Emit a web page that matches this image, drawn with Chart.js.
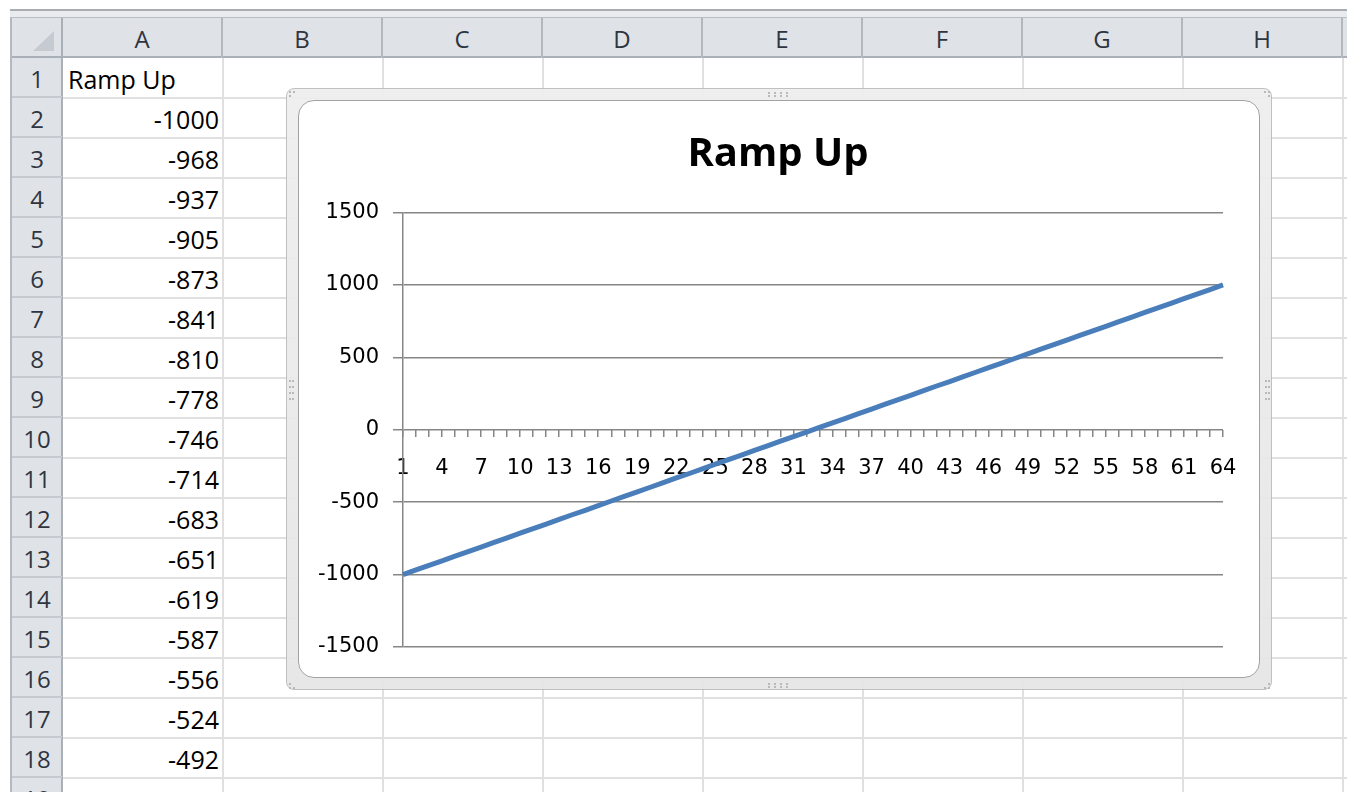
<!DOCTYPE html>
<html>
<head>
<meta charset="utf-8">
<script src="https://cdn.jsdelivr.net/npm/chart.js@4/dist/chart.umd.min.js"></script>
<style>
  html, body { margin: 0; padding: 0; background: #fff; }
  body { width: 1347px; height: 792px; overflow: hidden; position: relative; font-family: "Open Sans", sans-serif; }
  .abs { position: absolute; box-sizing: border-box; }
  .colhdr { position: absolute; top: 18px; height: 40px; width: 160px; border-right: 2px solid #b3b8bf; text-align: center; line-height: 42px; font-size: 24px; color: #2f3540; box-sizing: border-box; }
  .rowhdr { position: absolute; left: 12px; width: 50px; height: 40px; text-align: center; line-height: 42px; font-size: 24px; color: #2f3540; border-bottom: 2px solid #c6cad0; box-sizing: border-box; }
  .cell { position: absolute; height: 40px; line-height: 42px; font-size: 25px; color: #000; white-space: nowrap; }
  .hline { position: absolute; height: 2px; background: #e0e0e0; }
  .vline { position: absolute; width: 2px; background: #e0e0e0; }
  .dot { position: absolute; width: 2px; height: 2px; background: #b9b9b9; }
</style>
</head>
<body>
<div id="sheet"></div>
<div class="abs" style="left:286px;top:88px;width:986px;height:602px;border:1px solid #bcbcbc;border-radius:8px;background:linear-gradient(#eeeeee,#e6e6e6);opacity:0.93;"></div>
<div class="abs" style="left:298px;top:100px;width:962px;height:578px;border:1px solid #a2a2a2;border-radius:16px;background:#fff;"></div>
<div id="dots"></div>
<canvas id="c" width="962" height="578" style="position:absolute;left:298px;top:100px;"></canvas>
<script>
// ---- data ----
const seriesName = "Ramp Up";
const categories = [1,2,3,4,5,6,7,8,9,10,11,12,13,14,15,16,17,18,19,20,21,22,23,24,25,26,27,28,29,30,31,32,33,34,35,36,37,38,39,40,41,42,43,44,45,46,47,48,49,50,51,52,53,54,55,56,57,58,59,60,61,62,63,64];
const rampUp = [-1000,-968,-937,-905,-873,-841,-810,-778,-746,-714,-683,-651,-619,-587,-556,-524,-492,-460,-429,-397,-365,-333,-302,-270,-238,-206,-175,-143,-111,-79,-48,-16,16,48,79,111,143,175,206,238,270,302,333,365,397,429,460,492,524,556,587,619,651,683,714,746,778,810,841,873,905,937,968,1000];
const yTickValues = [-1500,-1000,-500,0,500,1000,1500];
const xLabelStep = 3;
const columnLetters = ["A","B","C","D","E","F","G","H"];
const rowNumbers = [1,2,3,4,5,6,7,8,9,10,11,12,13,14,15,16,17,18,19];

// ---- spreadsheet ----
const sheet = document.getElementById('sheet');
function add(html){ sheet.insertAdjacentHTML('beforeend', html); }
add('<div class="abs" style="left:10px;top:9px;width:1337px;height:2px;background:#a9adb3"></div>');
add('<div class="abs" style="left:10px;top:11px;width:1337px;height:6px;background:#e9ecef"></div>');
add('<div class="abs" style="left:10px;top:17px;width:1337px;height:1px;background:#b9bec4"></div>');
add('<div class="abs" style="left:10px;top:18px;width:1337px;height:40px;background:#dfe3e8;border-bottom:2px solid #aab0b8"></div>');
add('<div class="abs" style="left:10px;top:58px;width:53px;height:734px;background:#dfe3e8;border-right:2px solid #aab0b8;border-left:2px solid #b4b9c0"></div>');
add('<div class="abs" style="left:10px;top:18px;width:53px;height:40px;border-right:2px solid #aab0b8;border-left:2px solid #b4b9c0"></div>');
add('<div class="abs" style="left:33px;top:31px;width:0;height:0;border-left:21px solid transparent;border-bottom:20px solid #c6cbd1"></div>');
columnLetters.forEach((L,i)=>{
  add('<div class="colhdr" style="left:'+(63+160*i)+'px">'+L+'</div>');
});
rowNumbers.forEach((r,i)=>{
  add('<div class="rowhdr" style="top:'+(58+40*i)+'px">'+r+'</div>');
});
for (let r=1; r<=19; r++){
  add('<div class="hline" style="left:63px;width:1284px;top:'+(57+40*r)+'px"></div>');
}
for (let k=0; k<8; k++){
  add('<div class="vline" style="top:58px;height:734px;left:'+(222+160*k)+'px"></div>');
}
add('<div class="cell" style="left:68px;top:58px">'+seriesName+'</div>');
for (let i=0; i<17; i++){
  add('<div class="cell" style="left:63px;width:156px;text-align:right;top:'+(98+40*i)+'px">'+rampUp[i]+'</div>');
}

// ---- frame handle dots ----
const dots = document.getElementById('dots');
function dot(x,y){ dots.insertAdjacentHTML('beforeend','<div class="dot" style="left:'+x+'px;top:'+y+'px"></div>'); }
[768,774,780,786].forEach(x=>{ dot(x,92); dot(x,95); dot(x,683); dot(x,686); });
[380,386,392,398].forEach(y=>{ dot(289,y); dot(292,y); dot(1265,y); dot(1268,y); });
[[289,91],[293,91],[289,95],[1264,91],[1268,91],[1268,95],[289,683],[289,687],[293,687],[1268,683],[1264,687],[1268,687]].forEach(p=>dot(p[0],p[1]));

// ---- chart ----
const gridColor = '#868686';
new Chart(document.getElementById('c'), {
  type: 'line',
  data: {
    labels: categories,
    datasets: [{
      label: seriesName,
      data: rampUp,
      borderColor: '#4a7ebb',
      borderWidth: 5,
      pointRadius: 0,
      tension: 0,
      fill: false
    }]
  },
  options: {
    responsive: false,
    animation: false,
    layout: { padding: { left: 0, right: 2, top: 0, bottom: 31 } },
    plugins: {
      legend: { display: false },
      tooltip: { enabled: false },
      title: {
        display: true,
        text: seriesName,
        color: '#000',
        font: { family: 'Open Sans', size: 40, weight: 'bold' },
        padding: { top: 31, bottom: 33.5 }
      }
    },
    scales: {
      x: {
        type: 'category',
        position: { y: 0 },
        offset: false,
        grid: { drawOnChartArea: false, drawTicks: true, tickLength: 7, color: gridColor, lineWidth: 1.5 },
        border: { display: false },
        ticks: {
          autoSkip: false, maxRotation: 0, minRotation: 0, padding: 19,
          color: '#000',
          font: { family: 'DejaVu Sans', size: 21 },
          callback: (v, i) => (i % xLabelStep === 0 ? String(categories[i]) : '')
        }
      },
      y: {
        min: yTickValues[0],
        max: yTickValues[yTickValues.length - 1],
        afterFit: s => { s.width = 105; },
        afterBuildTicks: s => { s.ticks = yTickValues.map(v => ({ value: v })); },
        grid: { color: gridColor, tickLength: 10, lineWidth: 1.5 },
        border: { color: gridColor, width: 1.5 },
        ticks: {
          padding: 14,
          color: '#000',
          font: { family: 'DejaVu Sans', size: 21 },
          callback: v => String(v)
        }
      },
      spacer: {
        type: 'linear',
        position: 'right',
        display: true,
        afterFit: s => { s.width = 35; },
        grid: { display: false, drawTicks: false },
        border: { display: false },
        ticks: { display: false }
      }
    }
  }
});
</script>
</body>
</html>
